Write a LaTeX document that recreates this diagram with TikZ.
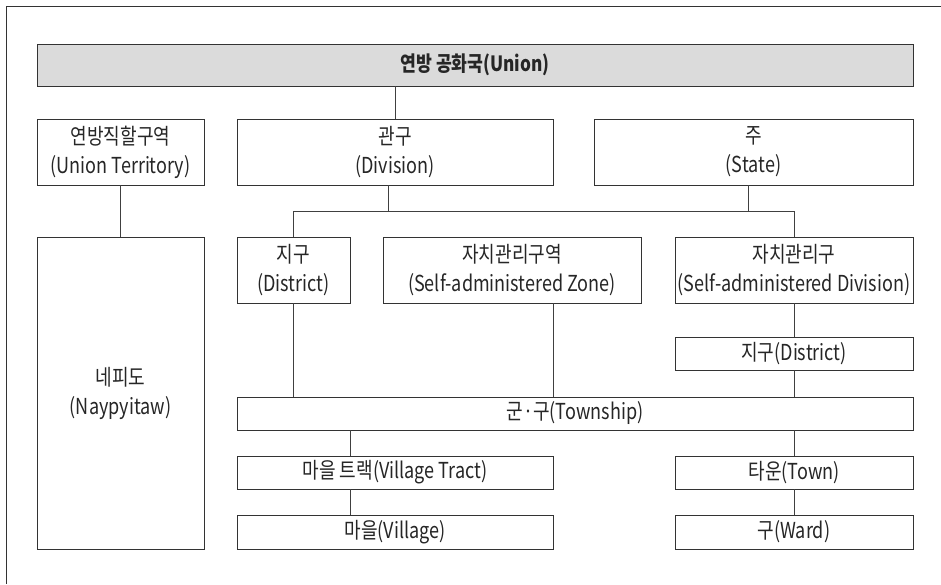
\documentclass[tikz,border=0pt]{standalone}
\usepackage{fontspec}
\setmainfont{Noto Sans CJK KR}[FakeStretch=0.82]
\usepackage{tikz}

\tikzset{
	unit/.style={draw=black!80, fill=white, text=black!85, align=center, inner sep=0pt,
		font=\fontsize{22}{29}\selectfont},
	link/.style={draw=black!75, line width=0.8pt}
}

\begin{document}
\begin{tikzpicture}[x=1pt, y=-1pt, line width=0.9pt]
	\useasboundingbox (0, 0) rectangle (941, 584);
	\draw[black!80, line width=1.2pt] (941, 6.5) -- (6.5, 6.5) -- (6.5, 584);

	\node[unit, fill=black!14, minimum width=876, minimum height=42, font=\fontsize{21}{29}\selectfont\bfseries] (union) at (475, 65) {연방 공화국(Union)};

	\node[unit, minimum width=167, minimum height=66] (terr) at (120.5, 152) {연방직할구역\\(Union Territory)};
	\node[unit, minimum width=316, minimum height=66] (div) at (395, 152) {관구\\(Division)};
	\node[unit, minimum width=319, minimum height=66] (state) at (753.5, 152) {주\\(State)};

	\node[unit, minimum width=167, minimum height=312] (capital) at (120.5, 393) {네피도\\(Naypyitaw)};

	\node[unit, minimum width=113, minimum height=66] (dist) at (293.5, 270) {지구\\(District)};
	\node[unit, minimum width=258, minimum height=66] (zone) at (512, 270) {자치관리구역\\(Self-administered Zone)};
	\node[unit, minimum width=238, minimum height=66] (sad) at (794, 270) {자치관리구\\(Self-administered Division)};

	\node[unit, minimum width=238, minimum height=33] (sadist) at (794, 353.5) {지구(District)};

	\node[unit, minimum width=676, minimum height=33] (town) at (575, 413.5) {군·구(Township)};

	\node[unit, minimum width=316, minimum height=33] (vtract) at (395, 472.5) {마을 트랙(Village Tract)};
	\node[unit, minimum width=238, minimum height=33] (towns) at (794, 472.5) {타운(Town)};
	\node[unit, minimum width=316, minimum height=34] (village) at (395, 532) {마을(Village)};
	\node[unit, minimum width=238, minimum height=34] (ward) at (794, 532) {구(Ward)};

	\coordinate (bus) at (0, 211);

	\draw[link] (union.south -| div.north) -- (div.north);
	\draw[link] (terr.south) -- (capital.north);

	\draw[link] ([xshift=-7]div.south) -- ([xshift=-7]div.south |- bus);
	\draw[link] ([xshift=-5.5]state.south) -- ([xshift=-5.5]state.south |- bus);
	\draw[link] (dist.north) -- (dist.north |- bus) -- (sad.north |- bus) -- (sad.north);

	\draw[link] (dist.south) -- (dist.south |- town.north);
	\draw[link] (zone.south -| vtract.east) -- (town.north -| vtract.east);
	\draw[link] (sad.south) -- (sadist.north);
	\draw[link] (sadist.south) -- (town.north -| sadist.south);

	\draw[link] (town.south -| dist.east) -- (vtract.north -| dist.east);
	\draw[link] (vtract.south -| dist.east) -- (village.north -| dist.east);
	\draw[link] (town.south -| towns.north) -- (towns.north);
	\draw[link] (towns.south) -- (ward.north);

\end{tikzpicture}
\end{document}
